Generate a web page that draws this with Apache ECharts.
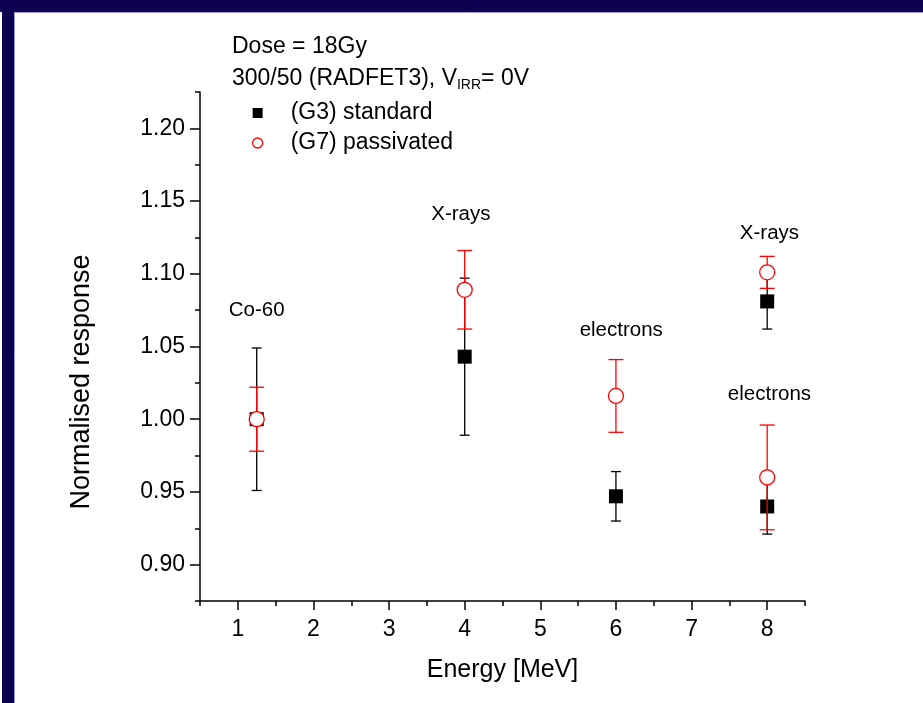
<!DOCTYPE html>
<html>
<head>
<meta charset="utf-8">
<script src="https://cdn.jsdelivr.net/npm/echarts@6/dist/echarts.min.js"></script>
<style>
  html, body { margin: 0; padding: 0; background: #ffffff; }
  #chart { width: 923px; height: 703px; }
</style>
</head>
<body>
<div id="chart"></div>
<script>
// Irradiation energies [MeV] for each measurement
const energies = [1.25, 4, 6, 8, 8];

// (G3) standard gate: normalised response and its error
const g3Values = [1.000, 1.043, 0.947, 1.081, 0.940];
const g3Errors = [0.049, 0.054, 0.017, 0.019, 0.019];

// (G7) passivated gate: normalised response and its error
const g7Values = [1.000, 1.089, 1.016, 1.101, 0.960];
const g7Errors = [0.022, 0.027, 0.025, 0.011, 0.036];

// Radiation-type notes placed in data coordinates
const noteTexts = ['Co-60', 'X-rays', 'electrons', 'X-rays', 'electrons'];
const noteX = [1.25, 3.95, 6.07, 8.03, 8.03];
const noteY = [1.075, 1.141, 1.061, 1.128, 1.017];

// Axis ticks
const xMajorTicks = [1, 2, 3, 4, 5, 6, 7, 8];
const xMinorTicks = [0.5, 1.5, 2.5, 3.5, 4.5, 5.5, 6.5, 7.5, 8.5];
const yMajorTicks = [0.90, 0.95, 1.00, 1.05, 1.10, 1.15, 1.20];
const yMinorTicks = [0.875, 0.925, 0.975, 1.025, 1.075, 1.125, 1.175, 1.225];

const FONT = "'Liberation Sans', Arial, sans-serif";
const RED = '#ff0000';
const BLACK = '#000000';
const FRAME = '#0c0050';

function errorBarRenderer(capHalf, color) {
  return function (params, api) {
    const x = api.value(0), y = api.value(1), e = api.value(2);
    const hi = api.coord([x, y + e]);
    const lo = api.coord([x, y - e]);
    const style = { stroke: color, lineWidth: 1.3 };
    return {
      type: 'group',
      children: [
        { type: 'line', shape: { x1: hi[0], y1: hi[1], x2: lo[0], y2: lo[1] }, style: style },
        { type: 'line', shape: { x1: hi[0] - capHalf, y1: hi[1], x2: hi[0] + capHalf, y2: hi[1] }, style: style },
        { type: 'line', shape: { x1: lo[0] - capHalf, y1: lo[1], x2: lo[0] + capHalf, y2: lo[1] }, style: style }
      ]
    };
  };
}

const axisLineStyle = { color: BLACK, width: 1.5 };

const chart = echarts.init(document.getElementById('chart'), null, { renderer: 'canvas' });

chart.setOption({
  backgroundColor: '#ffffff',
  animation: false,
  textStyle: { fontFamily: FONT },
  grid: { left: 200, top: 92, right: 118, bottom: 102 },
  legend: {
    orient: 'vertical',
    left: 252,
    top: 101,
    padding: 0,
    itemGap: 6,
    itemWidth: 10,
    itemHeight: 10,
    selectedMode: false,
    textStyle: { fontFamily: FONT, fontSize: 23, color: BLACK, lineHeight: 24, padding: [0, 0, 0, 23] },
    data: [
      { name: '(G3) standard' },
      { name: '(G7) passivated', itemStyle: { borderWidth: 1.3 } }
    ]
  },
  xAxis: [
    {
      type: 'value',
      min: 0.5,
      max: 8.5,
      interval: 0.5,
      position: 'bottom',
      name: 'Energy [MeV]',
      nameLocation: 'middle',
      nameGap: 57,
      nameTextStyle: { fontFamily: FONT, fontSize: 25, color: BLACK },
      axisLine: { show: true, lineStyle: axisLineStyle },
      axisTick: { show: true, customValues: xMajorTicks, length: 9, lineStyle: axisLineStyle },
      axisLabel: {
        customValues: xMajorTicks,
        margin: 17,
        fontFamily: FONT,
        fontSize: 23,
        color: BLACK,
        formatter: function (v) { return String(v); }
      },
      splitLine: { show: false }
    },
    {
      type: 'value',
      min: 0.5,
      max: 8.5,
      interval: 0.5,
      position: 'bottom',
      axisLine: { show: false },
      axisTick: { show: true, customValues: xMinorTicks, length: 5, lineStyle: axisLineStyle },
      axisLabel: { show: false },
      splitLine: { show: false }
    }
  ],
  yAxis: [
    {
      type: 'value',
      min: 0.875,
      max: 1.225,
      interval: 0.025,
      position: 'left',
      name: 'Normalised response',
      nameLocation: 'middle',
      nameGap: 105,
      nameTextStyle: { fontFamily: FONT, fontSize: 27, color: BLACK, padding: [0, 71, 0, 0] },
      axisLine: { show: true, lineStyle: axisLineStyle },
      axisTick: { show: true, customValues: yMajorTicks, length: 10, lineStyle: axisLineStyle },
      axisLabel: {
        customValues: yMajorTicks,
        margin: 15,
        fontFamily: FONT,
        fontSize: 23,
        color: BLACK,
        formatter: function (v) { return v.toFixed(2); }
      },
      splitLine: { show: false }
    },
    {
      type: 'value',
      min: 0.875,
      max: 1.225,
      interval: 0.025,
      position: 'left',
      axisLine: { show: false },
      axisTick: { show: true, customValues: yMinorTicks, length: 5, lineStyle: axisLineStyle },
      axisLabel: { show: false },
      splitLine: { show: false }
    }
  ],
  graphic: [
    // slide frame
    { type: 'rect', shape: { x: 0, y: 0, width: 923, height: 12 }, style: { fill: FRAME }, z: 100 },
    { type: 'rect', shape: { x: 2, y: 0, width: 12, height: 703 }, style: { fill: FRAME }, z: 100 },
    { type: 'line', shape: { x1: 14.5, y1: 12, x2: 14.5, y2: 703 }, style: { stroke: '#9c9ce0', lineWidth: 1 }, z: 100 },
    { type: 'line', shape: { x1: 14, y1: 12.5, x2: 923, y2: 12.5 }, style: { stroke: '#9c9ce0', lineWidth: 1 }, z: 100 },
    // measurement conditions
    {
      type: 'text', left: 232, top: 35, z: 50,
      style: { text: 'Dose = 18Gy', font: '23px ' + FONT, fill: BLACK }
    },
    {
      type: 'text', left: 232, top: 65, z: 50,
      style: {
        text: '300/50 (RADFET3), V{sub|IRR}= 0V',
        font: '23px ' + FONT,
        fill: BLACK,
        lineHeight: 27,
        rich: {
          sub: { fontSize: 14, fontFamily: FONT, fill: BLACK, lineHeight: 14, verticalAlign: 'top', padding: [13, 0, 0, 0] }
        }
      }
    }
  ],
  series: [
    {
      name: 'G3 error',
      type: 'custom',
      xAxisIndex: 0,
      yAxisIndex: 0,
      renderItem: errorBarRenderer(5, BLACK),
      encode: { x: 0, y: 1 },
      data: energies.map(function (x, i) { return [x, g3Values[i], g3Errors[i]]; }),
      z: 2
    },
    {
      name: '(G3) standard',
      type: 'scatter',
      xAxisIndex: 0,
      yAxisIndex: 0,
      symbol: 'rect',
      symbolSize: 14,
      itemStyle: { color: BLACK, opacity: 1 },
      data: energies.map(function (x, i) { return [x, g3Values[i]]; }),
      z: 3
    },
    {
      name: 'G7 error',
      type: 'custom',
      xAxisIndex: 0,
      yAxisIndex: 0,
      renderItem: errorBarRenderer(7.5, RED),
      encode: { x: 0, y: 1 },
      data: energies.map(function (x, i) { return [x, g7Values[i], g7Errors[i]]; }),
      z: 4
    },
    {
      name: '(G7) passivated',
      type: 'scatter',
      xAxisIndex: 0,
      yAxisIndex: 0,
      symbol: 'circle',
      symbolSize: 15,
      itemStyle: { color: '#ffffff', borderColor: RED, borderWidth: 1.3, opacity: 1 },
      data: energies.map(function (x, i) { return [x, g7Values[i]]; }),
      z: 5
    },
    {
      name: 'notes',
      type: 'scatter',
      xAxisIndex: 0,
      yAxisIndex: 0,
      symbolSize: 0,
      silent: true,
      itemStyle: { opacity: 1 },
      label: {
        show: true,
        position: 'inside',
        fontFamily: FONT,
        fontSize: 20.5,
        color: BLACK,
        formatter: function (p) { return p.data[2]; }
      },
      data: noteTexts.map(function (t, i) { return [noteX[i], noteY[i], t]; }),
      z: 6
    }
  ]
});
</script>
</body>
</html>
